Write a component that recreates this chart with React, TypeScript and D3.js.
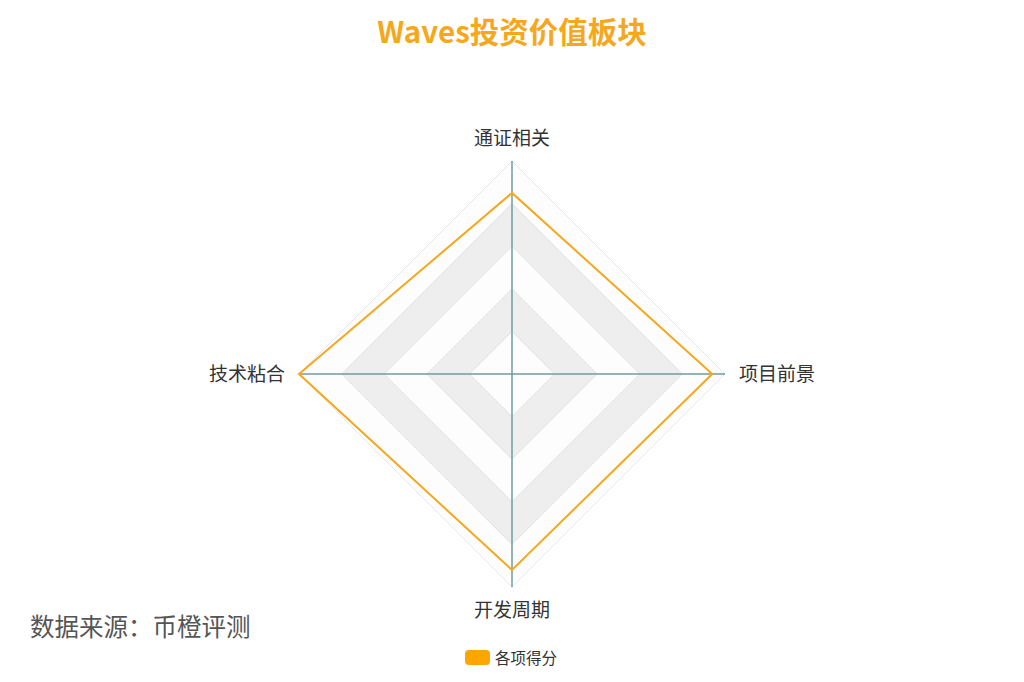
import React from "react";
import * as d3 from "d3";

const indicators = ["通证相关", "技术粘合", "开发周期", "项目前景"];
const scores = [85, 100, 92, 94];
const maxValue = 100;
const splitCount = 5;
const seriesName = "各项得分";
const titleText = "Waves投资价值板块";
const sourceText = "数据来源：币橙评测";

const W = 1024;
const H = 682;
const cx = 512;
const cy = 374;
const R = 213;
const FONT = "'Noto Sans CJK SC', 'Noto Sans', sans-serif";
const ORANGE = "#f5a81c";

export default function App() {
  const rScale = d3.scaleLinear().domain([0, maxValue]).range([0, R]);
  const angle = (i: number) => -Math.PI / 2 - (i * 2 * Math.PI) / indicators.length;
  const pt = (i: number, r: number): [number, number] => [
    cx + r * Math.cos(angle(i)),
    cy + r * Math.sin(angle(i)),
  ];
  const ring = (r: number) =>
    d3.line()(indicators.map((_, i) => pt(i, r)))! + "Z";
  const levels = d3.range(1, splitCount + 1).map((k) => (maxValue * k) / splitCount);

  const bands = levels.map((v, k) => {
    const outer = ring(rScale(v));
    const inner = k === 0 ? "" : ring(rScale(levels[k - 1]));
    return (
      <path
        key={"b" + k}
        d={outer + inner}
        fillRule="evenodd"
        fill={k % 2 === 0 ? "rgba(250,250,250,0.3)" : "rgba(200,200,200,0.3)"}
        stroke="none"
      />
    );
  });

  const dataPath =
    d3.line()(scores.map((v, i) => pt(i, rScale(v))))! + "Z";

  const labelPos = indicators.map((name, i) => {
    const [x, y] = pt(i, R + 14);
    const c = Math.cos(angle(i));
    const s = Math.sin(angle(i));
    let anchor: "middle" | "start" | "end" = "middle";
    if (c > 0.3) anchor = "start";
    else if (c < -0.3) anchor = "end";
    let dy = "0.35em";
    if (s < -0.3) dy = "-0.12em";
    else if (s > 0.3) dy = "0.85em";
    return { name, x, y, anchor, dy };
  });

  return (
    <svg
      width={W}
      height={H}
      style={{ position: "absolute", left: 0, top: 0, background: "#fff" }}
    >
      <rect x={0} y={0} width={W} height={H} fill="#fff" />
      <text
        x={512}
        y={43}
        textAnchor="middle"
        fontFamily={FONT}
        fontSize={29.5}
        fontWeight="bold"
        fill={ORANGE}
      >
        {titleText}
      </text>
      {bands}
      {levels.map((v, k) => (
        <path
          key={"s" + k}
          d={ring(rScale(v))}
          fill="none"
          stroke="rgba(200,210,220,0.5)"
          strokeWidth={1}
        />
      ))}
      {indicators.map((_, i) => {
        const [x, y] = pt(i, R);
        return (
          <line
            key={"a" + i}
            x1={cx}
            y1={cy}
            x2={x}
            y2={y}
            stroke="#6f9da0"
            strokeWidth={1.5}
          />
        );
      })}
      <path d={dataPath} fill="none" stroke={ORANGE} strokeWidth={2} />
      {labelPos.map((l) => (
        <text
          key={l.name}
          x={l.x}
          y={l.y}
          dy={l.dy}
          textAnchor={l.anchor}
          fontFamily={FONT}
          fontSize={19}
          fill="#333"
        >
          {l.name}
        </text>
      ))}
      <text x={30} y={636} fontFamily={FONT} fontSize={24.5} fill="#555">
        {sourceText}
      </text>
      <rect x={465} y={650} width={25} height={15} rx={4} fill="#ffa500" />
      <text x={495} y={664} fontFamily={FONT} fontSize={15.5} fill="#333">
        {seriesName}
      </text>
    </svg>
  );
}
